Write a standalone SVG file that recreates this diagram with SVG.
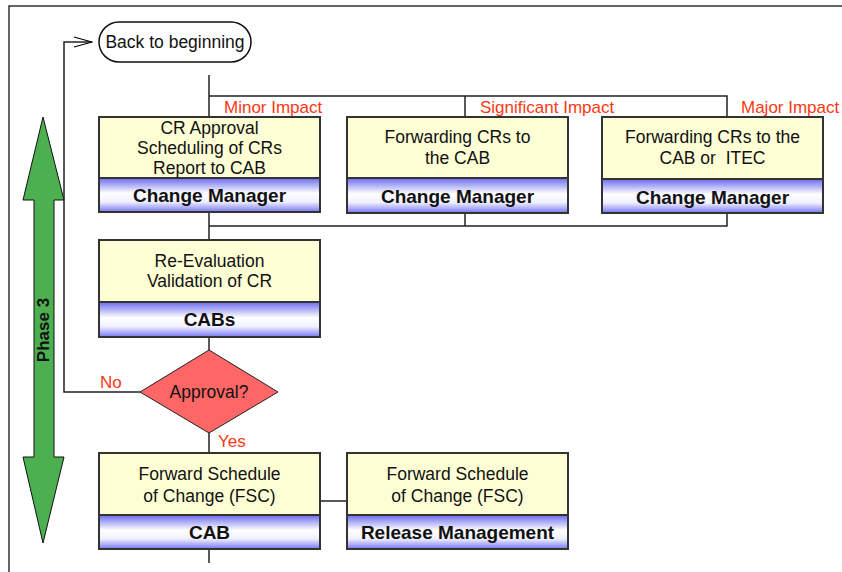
<svg xmlns="http://www.w3.org/2000/svg" width="842" height="572" viewBox="0 0 842 572">
<defs>
<linearGradient id="hdr" x1="0" y1="0" x2="0" y2="1">
<stop offset="0" stop-color="#6a6af0"/>
<stop offset="0.45" stop-color="#ffffff"/>
<stop offset="0.7" stop-color="#f0f0ff"/>
<stop offset="1" stop-color="#7676f2"/>
</linearGradient>
<marker id="open" viewBox="0 0 20 12" refX="19" refY="6" markerWidth="20" markerHeight="12" markerUnits="userSpaceOnUse" orient="auto">
<path d="M1,1 L19,6 L1,11" fill="none" stroke="#000" stroke-width="1.2"/>
</marker>
</defs>
<style>
text{font-family:"Liberation Sans",Arial,sans-serif;}
.body{fill:#ffffd6;stroke:#333;stroke-width:2;}
.hdr{fill:url(#hdr);stroke:#333;stroke-width:2;}
.t{font-size:17.5px;fill:#111;text-anchor:middle;}
.h{font-size:19px;font-weight:bold;fill:#111;text-anchor:middle;}
.lbl{font-size:17px;fill:#ff3814;}
.ln{fill:none;stroke:#222;stroke-width:1.5;}
</style>
<rect width="842" height="572" fill="#fff"/>
<path d="M9,572 V6 H842" fill="none" stroke="#333" stroke-width="1.5"/>

<g id="phase">
<polygon points="43,117 64,200 54,200 54,457 64,457 43,543 23,457 34,457 34,200 23,200" fill="#4caf50" stroke="#111" stroke-width="1"/>
<text transform="translate(49,330) rotate(-90)" text-anchor="middle" font-size="17px" font-weight="bold" fill="#111">Phase 3</text>
</g>

<g id="connectors">
<path class="ln" d="M140,392 H64 V42 H92" marker-end="url(#open)"/>
<path class="ln" d="M209,75 V117"/>
<path class="ln" d="M209,96 H727 V117"/>
<path class="ln" d="M465,96 V117"/>
<path class="ln" d="M209,212 V240"/>
<path class="ln" d="M209,226 H727 V213"/>
<path class="ln" d="M465,213 V226"/>
<path class="ln" d="M209,337 V350"/>
<path class="ln" d="M209,433 V453"/>
<path class="ln" d="M209,549 V563"/>
<path class="ln" d="M320,501 H347"/>
<text class="lbl" x="224" y="113">Minor Impact</text>
<text class="lbl" x="480" y="113">Significant Impact</text>
<text class="lbl" x="741" y="113">Major Impact</text>
<text class="lbl" x="100" y="388">No</text>
<text class="lbl" x="218" y="447">Yes</text>
</g>

<g id="back">
<rect x="99" y="22" width="152" height="40" rx="20" ry="20" fill="#fff" stroke="#111" stroke-width="1.5"/>
<text class="t" x="175" y="48">Back to beginning</text>
</g>

<g id="box1">
<rect class="body" x="99" y="117" width="221" height="61"/>
<rect class="hdr" x="99" y="178" width="221" height="34"/>
<text class="t" x="209.5" y="134">CR Approval</text>
<text class="t" x="209.5" y="154">Scheduling of CRs</text>
<text class="t" x="209.5" y="174">Report to CAB</text>
<text class="h" x="209.5" y="202">Change Manager</text>
</g>

<g id="box2">
<rect class="body" x="347" y="117" width="221" height="61"/>
<rect class="hdr" x="347" y="178" width="221" height="35"/>
<text class="t" x="457.5" y="143">Forwarding CRs to</text>
<text class="t" x="457.5" y="164">the CAB</text>
<text class="h" x="457.5" y="203">Change Manager</text>
</g>

<g id="box3">
<rect class="body" x="602" y="117" width="221" height="62"/>
<rect class="hdr" x="602" y="179" width="221" height="34"/>
<text class="t" x="712.5" y="143">Forwarding CRs to the</text>
<text class="t" x="712.5" y="164" xml:space="preserve">CAB or  ITEC</text>
<text class="h" x="712.5" y="204">Change Manager</text>
</g>

<g id="box4">
<rect class="body" x="99" y="240" width="221" height="62"/>
<rect class="hdr" x="99" y="302" width="221" height="35"/>
<text class="t" x="209.5" y="267">Re-Evaluation</text>
<text class="t" x="209.5" y="287">Validation of CR</text>
<text class="h" x="209.5" y="326">CABs</text>
</g>

<g id="decision">
<polygon points="209,350 278,392 209,433 140,392" fill="#ff6666" stroke="#222" stroke-width="1"/>
<text class="t" x="209" y="398">Approval?</text>
</g>

<g id="box5">
<rect class="body" x="99" y="453" width="221" height="62"/>
<rect class="hdr" x="99" y="515" width="221" height="34"/>
<text class="t" x="209.5" y="480">Forward Schedule</text>
<text class="t" x="209.5" y="502">of Change (FSC)</text>
<text class="h" x="209.5" y="539">CAB</text>
</g>

<g id="box6">
<rect class="body" x="347" y="453" width="221" height="62"/>
<rect class="hdr" x="347" y="515" width="221" height="34"/>
<text class="t" x="457.5" y="480">Forward Schedule</text>
<text class="t" x="457.5" y="502">of Change (FSC)</text>
<text class="h" x="457.5" y="539">Release Management</text>
</g>
</svg>
